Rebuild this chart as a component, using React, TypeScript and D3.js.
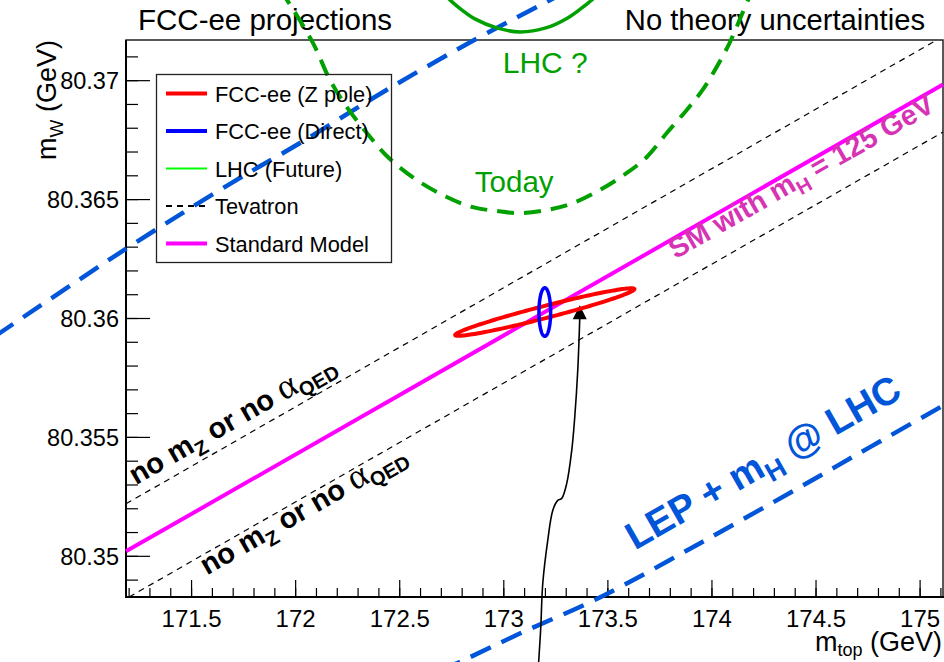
import React from "react";
import * as d3 from "d3";

const W = 944;
const H = 662;

// axis ranges
const mtDomain: [number, number] = [171.185, 175.11];
const mwDomain: [number, number] = [80.34829, 80.37171];
const xMajorTicks = [171.5, 172, 172.5, 173, 173.5, 174, 174.5, 175];
const yMajorTicks = [80.35, 80.355, 80.36, 80.365, 80.37];

// Standard Model line and Tevatron band edges (m_top, m_W)
const smLine = [[171.185, 80.35021], [175.11, 80.36984]];
const tevUpper = [[171.185, 80.35221], [175.08, 80.37171]];
const tevLower = [[171.2, 80.34829], [175.11, 80.36784]];

// LEP + mH @ LHC contour edges
const lepUpper = [
  [170.556, 80.359255], [171.19, 80.362959], [171.699, 80.365737], [172.021, 80.367378],
  [172.453, 80.369693], [172.885, 80.371839], [173.206, 80.373312], [173.461, 80.374491],
];
const lepLower = [
  [172.6928, 80.345198], [172.8032, 80.345619], [173.0768, 80.346755], [173.4609, 80.34827],
  [173.9409, 80.350543], [174.421, 80.3529], [174.7571, 80.354583], [175.1891, 80.35673],
];

// LHC today (dashed) and LHC future (solid) contours
const lhcToday = [
  [171.925, 80.37382], [171.958, 80.3734], [172.083, 80.37159], [172.165, 80.37003],
  [172.246, 80.36889], [172.342, 80.3678], [172.443, 80.36679], [172.582, 80.36582],
  [172.726, 80.36511], [172.851, 80.36468], [172.966, 80.36452], [173.077, 80.36443],
  [173.206, 80.36456], [173.331, 80.36485], [173.461, 80.3654], [173.591, 80.36612],
  [173.687, 80.36679], [173.783, 80.3678], [173.879, 80.36877], [173.955, 80.36961],
  [174.023, 80.37058], [174.085, 80.37159], [174.147, 80.37285], [174.191, 80.37373],
];
const lhcFuture = [
  [172.693, 80.373817], [172.741, 80.373396], [172.798, 80.372976], [172.861, 80.372597],
  [172.966, 80.372218], [173.077, 80.37205], [173.202, 80.372218], [173.307, 80.372639],
  [173.375, 80.37306], [173.423, 80.373396], [173.461, 80.373733],
];

// FCC-ee ellipses: [centre mt, centre mW, sigma mt, sigma mW, correlation]
const fccZpole = [173.197, 80.36027, 0.4306, 0.001, 0.965];
const fccDirect = [173.197, 80.36027, 0.028, 0.00102, 0.0];

// arrow path (m_top, m_W)
const arrowPath = [
  [173.1632, 80.344987], [173.168, 80.345619], [173.1776, 80.347008], [173.1872, 80.34886],
  [173.2112, 80.350669], [173.2352, 80.351932], [173.2592, 80.352353], [173.2784, 80.352437],
  [173.3024, 80.353068], [173.3264, 80.354457], [173.3408, 80.355846], [173.3553, 80.357824],
  [173.3649, 80.360013],
];
const arrowTip = [173.3649, 80.36056];

// label anchors (m_top, m_W)
const labelNoMzUpper = [171.233, 80.352984];
const labelNoMzLower = [171.574, 80.349196];
const labelSM = [173.825, 80.362483];
const labelLEP = [173.63, 80.35025];
const labelLHCq = [172.995, 80.370324];
const labelToday = [172.861, 80.365316];

const legendItems = [
  { label: "FCC-ee (Z pole)", color: "#ff0000", width: 4, dash: "" },
  { label: "FCC-ee (Direct)", color: "#0000ff", width: 4, dash: "" },
  { label: "LHC (Future)", color: "#00ff00", width: 2, dash: "" },
  { label: "Tevatron", color: "#000000", width: 2, dash: "6 5" },
  { label: "Standard Model", color: "#ff00ff", width: 4, dash: "" },
];

const FONT = "'Liberation Sans', Arial, Helvetica, sans-serif";
const SERIF = "'Liberation Serif', 'Times New Roman', serif";
const GREEN = "#00a000";
const LEPBLUE = "#0055d8";

function ellipsePoints(p: number[]) {
  const [cx, cy, sx, sy, rho] = p;
  const q = Math.sqrt(1 - rho * rho);
  return d3.range(0, 2 * Math.PI + 0.001, Math.PI / 90).map((t) => [
    cx + sx * Math.cos(t),
    cy + sy * (rho * Math.cos(t) + q * Math.sin(t)),
  ]);
}

export default function App() {
  const x = d3.scaleLinear().domain(mtDomain).range([126, 943]);
  const y = d3.scaleLinear().domain(mwDomain).range([597, 40]);
  const line = d3.line<number[]>().x((d) => x(d[0])).y((d) => y(d[1]));
  const smooth = d3
    .line<number[]>()
    .x((d) => x(d[0]))
    .y((d) => y(d[1]))
    .curve(d3.curveCatmullRom.alpha(0.5));
  const closed = d3
    .line<number[]>()
    .x((d) => x(d[0]))
    .y((d) => y(d[1]))
    .curve(d3.curveLinearClosed);

  const xMinor = d3.range(171.2, 175.11, 0.1);
  const yMinor = d3.range(80.349, 80.3715, 0.001);
  const fmt = (v: number) => String(+v.toFixed(3));

  const angle =
    (-Math.atan2(y(smLine[0][1]) - y(smLine[1][1]), x(smLine[1][0]) - x(smLine[0][0])) * 180) /
    Math.PI;

  const tipX = x(arrowTip[0]);
  const tipY = y(arrowTip[1]);

  const noMz = (pos: number[]) => (
    <text
      transform={`translate(${x(pos[0])},${y(pos[1])}) rotate(${angle})`}
      fontFamily={FONT}
      fontWeight="bold"
      fontSize={29}
      fill="#000"
    >
      no m
      <tspan dy={7} fontSize={20}>Z</tspan>
      <tspan dy={-7}> or no </tspan>
      <tspan fontFamily={SERIF} fontWeight="normal" fontSize={36}>
        α
      </tspan>
      <tspan dy={7} fontSize={20}>QED</tspan>
    </text>
  );

  return (
    <svg width={W} height={H} style={{ position: "absolute", left: 0, top: 0, background: "#fff" }}>
      <rect x={0} y={0} width={W} height={H} fill="#fff" />

      {/* frame */}
      <rect x={126} y={40} width={817} height={557} fill="none" stroke="#222" strokeWidth={1.5} />
      <line x1={126} y1={40} x2={126} y2={598} stroke="#000" strokeWidth={2} />
      <line x1={125} y1={597} x2={944} y2={597} stroke="#000" strokeWidth={2} />

      {/* y ticks */}
      {yMinor.map((v, i) => (
        <line key={"ym" + i} x1={126} x2={138} y1={y(v)} y2={y(v)} stroke="#000" strokeWidth={1.2} />
      ))}
      {yMajorTicks.map((v) => (
        <g key={"yM" + v}>
          <line x1={126} x2={150} y1={y(v)} y2={y(v)} stroke="#000" strokeWidth={1.2} />
          <text x={119} y={y(v) + 8.5} textAnchor="end" fontFamily={FONT} fontSize={23.5} fill="#000">
            {fmt(v)}
          </text>
        </g>
      ))}
      {/* x ticks */}
      {xMinor.map((v, i) => (
        <line key={"xm" + i} x1={x(v)} x2={x(v)} y1={597} y2={588} stroke="#000" strokeWidth={1.2} />
      ))}
      {xMajorTicks.map((v) => (
        <g key={"xM" + v}>
          <line x1={x(v)} x2={x(v)} y1={597} y2={580} stroke="#000" strokeWidth={1.2} />
          <text x={x(v)} y={627} textAnchor="middle" fontFamily={FONT} fontSize={24} fill="#000">
            {fmt(v)}
          </text>
        </g>
      ))}

      {/* axis titles */}
      <text x={942} y={651} textAnchor="end" fontFamily={FONT} fontSize={27} fill="#000">
        m<tspan dy={5} fontSize={18}>top</tspan>
        <tspan dy={-5}> (GeV)</tspan>
      </text>
      <text transform="translate(56,40) rotate(-90)" textAnchor="end" fontFamily={FONT} fontSize={27} fill="#000">
        m<tspan dy={7} fontSize={19}>W</tspan>
        <tspan dy={-7}> (GeV)</tspan>
      </text>

      {/* titles */}
      <text x={138} y={30} fontFamily={FONT} fontSize={29.5} fill="#000">
        FCC-ee projections
      </text>
      <text x={925} y={30} textAnchor="end" fontFamily={FONT} fontSize={29.2} fill="#000">
        No theory uncertainties
      </text>

      {/* Tevatron band */}
      <path d={line(tevUpper) || ""} fill="none" stroke="#000" strokeWidth={1.2} strokeDasharray="6 5" />
      <path d={line(tevLower) || ""} fill="none" stroke="#000" strokeWidth={1.2} strokeDasharray="6 5" />

      {/* LEP + mH */}
      <path d={smooth(lepUpper) || ""} fill="none" stroke={LEPBLUE} strokeWidth={4.5} strokeDasharray="22 12" />
      <path d={smooth(lepLower) || ""} fill="none" stroke={LEPBLUE} strokeWidth={4.5} strokeDasharray="22 12" />

      {/* LHC contours */}
      <path d={smooth(lhcToday) || ""} fill="none" stroke={GREEN} strokeWidth={4} strokeDasharray="17 10" />
      <path d={smooth(lhcFuture) || ""} fill="none" stroke={GREEN} strokeWidth={3.5} />

      {/* SM line */}
      <path d={line(smLine) || ""} fill="none" stroke="#ff00ff" strokeWidth={4} />

      {/* arrow */}
      <path d={smooth(arrowPath) || ""} fill="none" stroke="#000" strokeWidth={1.6} />
      <path d={`M${tipX},${tipY} L${tipX - 7},${tipY + 14} L${tipX + 7},${tipY + 14} Z`} fill="#000" />

      {/* FCC-ee ellipses */}
      <path d={closed(ellipsePoints(fccZpole)) || ""} fill="none" stroke="#ff0000" strokeWidth={4} />
      <path d={closed(ellipsePoints(fccDirect)) || ""} fill="none" stroke="#0000ff" strokeWidth={3.5} />

      {/* labels */}
      {noMz(labelNoMzUpper)}
      {noMz(labelNoMzLower)}
      <text
        transform={`translate(${x(labelSM[0])},${y(labelSM[1])}) rotate(${angle})`}
        fontFamily={FONT}
        fontWeight="bold"
        fontSize={28.5}
        fill="#d634b4"
      >
        SM with m<tspan dy={7} fontSize={20}>H</tspan>
        <tspan dy={-7}> = 125 GeV</tspan>
      </text>
      <text
        transform={`translate(${x(labelLEP[0])},${y(labelLEP[1])}) rotate(${angle})`}
        fontFamily={FONT}
        fontWeight="bold"
        fontSize={38.5}
        fill={LEPBLUE}
      >
        LEP + m<tspan dy={9} fontSize={27}>H</tspan>
        <tspan dy={-9}> @ LHC</tspan>
      </text>
      <text x={x(labelLHCq[0])} y={y(labelLHCq[1])} fontFamily={FONT} fontSize={30} fill={GREEN}>
        LHC ?
      </text>
      <text x={x(labelToday[0])} y={y(labelToday[1])} fontFamily={FONT} fontSize={29.5} fill={GREEN}>
        Today
      </text>

      {/* legend */}
      <rect x={156.5} y={74.5} width={235} height={188} fill="none" stroke="#222" strokeWidth={1.3} />
      {legendItems.map((it, i) => {
        const cy = 93.5 + i * 37.5;
        return (
          <g key={it.label}>
            <line x1={166} x2={207} y1={cy} y2={cy} stroke={it.color} strokeWidth={it.width} strokeDasharray={it.dash} />
            <text x={215} y={cy + 8} fontFamily={FONT} fontSize={21.8} fill="#000">
              {it.label}
            </text>
          </g>
        );
      })}
    </svg>
  );
}
